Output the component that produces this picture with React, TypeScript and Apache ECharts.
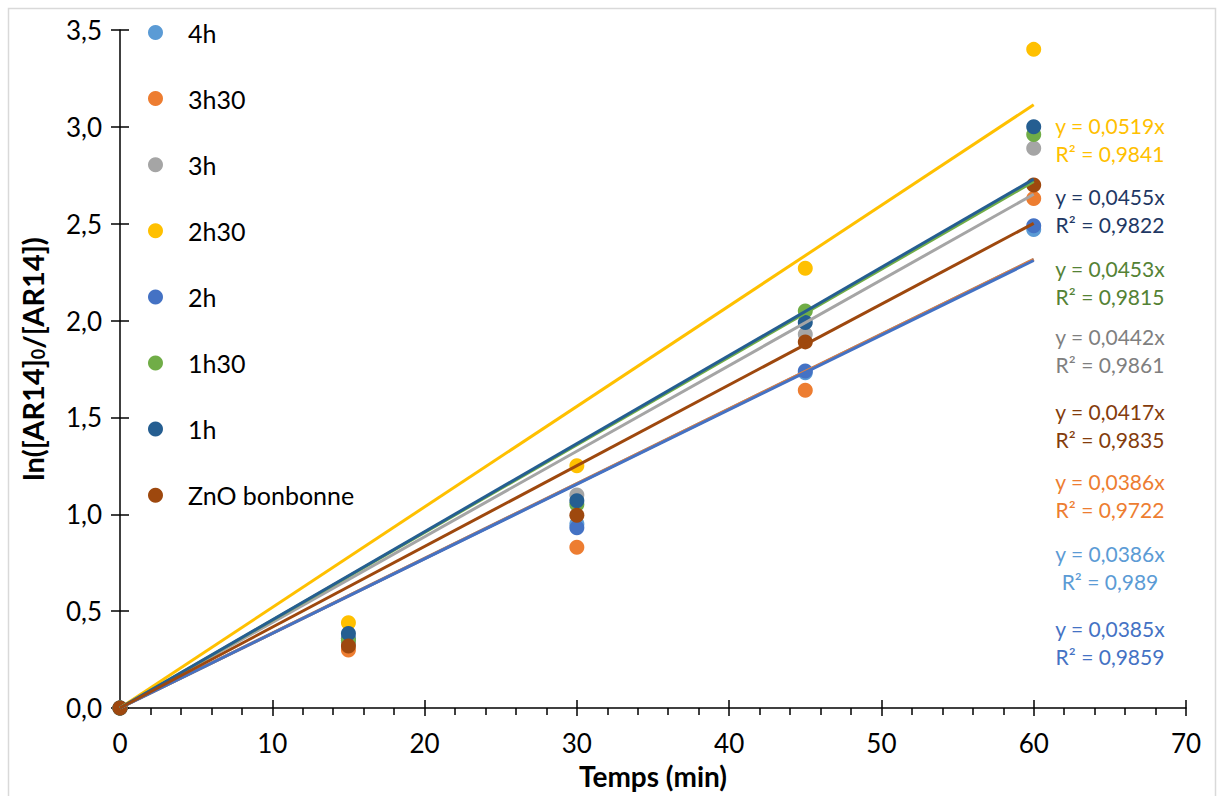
import React, { useEffect, useRef } from "react";
import * as echarts from "echarts";

const xTimes = [0, 15, 30, 45, 60];
const seriesNames = ["4h", "3h30", "3h", "2h30", "2h", "1h30", "1h", "ZnO bonbonne"];
const colors = ["#5B9BD5", "#ED7D31", "#A5A5A5", "#FFC000", "#4472C4", "#70AD47", "#255E91", "#9E480E"];
const labelColors = ["#5B9BD5", "#ED7D31", "#7F7F7F", "#FFC000", "#4472C4", "#548235", "#1F3864", "#843C0C"];
const yValues = [
  [0, 0.34, 0.95, 1.73, 2.47],
  [0, 0.30, 0.83, 1.64, 2.63],
  [0, 0.33, 1.10, 1.93, 2.89],
  [0, 0.44, 1.25, 2.27, 3.40],
  [0, 0.36, 0.93, 1.74, 2.49],
  [0, 0.35, 1.05, 2.05, 2.96],
  [0, 0.385, 1.07, 1.99, 3.00],
  [0, 0.32, 0.995, 1.89, 2.70],
];
const slopes = [0.0386, 0.0386, 0.0442, 0.0519, 0.0385, 0.0453, 0.0455, 0.0417];
const r2 = ["0,989", "0,9722", "0,9861", "0,9841", "0,9859", "0,9815", "0,9822", "0,9835"];
const yTicks = [0, 0.5, 1, 1.5, 2, 2.5, 3, 3.5];
// order of equation labels from top to bottom (series indices) with their y pixel centers
const labelOrder = [3, 6, 5, 2, 7, 1, 0, 4];
const labelY = [125, 196, 268, 336, 411, 481, 553, 628];

const FONT = "Lato, 'Open Sans', sans-serif";

export default function App() {
  const ref = useRef<HTMLDivElement>(null);
  useEffect(() => {
    if (!ref.current) return;
    const chart = echarts.init(ref.current, null, { renderer: "svg" });
    const scatterSeries = seriesNames.map((name, i) => ({
      name,
      type: "scatter",
      data: xTimes.map((x, j) => [x, yValues[i][j]]),
      symbol: "circle",
      symbolSize: 15,
      itemStyle: { color: colors[i], opacity: 1 },
      z: 3,
    }));
    const trendSeries = seriesNames.map((name, i) => ({
      name: name + " trend",
      type: "line",
      data: [[0, 0], [60, slopes[i] * 60]],
      showSymbol: false,
      symbol: "none",
      lineStyle: { color: colors[i], width: 3 },
      z: 4,
      silent: true,
    }));
    const graphics: any[] = [
      {
        type: "rect",
        shape: { x: 8.5, y: 8.5, width: 1207, height: 800 },
        style: { fill: "none", stroke: "#D9D9D9", lineWidth: 1.5 },
        silent: true,
      },
    ];
    labelOrder.forEach((si, k) => {
      graphics.push({
        type: "text",
        x: 1110,
        y: labelY[k],
        style: {
          text: "y = " + slopes[si].toFixed(4).replace(".", ",") + "x",
          fill: labelColors[si],
          font: `21px ${FONT}`,
          textAlign: "center",
          textVerticalAlign: "middle",
        },
      });
      graphics.push({
        type: "text",
        x: 1110,
        y: labelY[k] + 28.5,
        style: {
          text: "R² = " + r2[si],
          fill: labelColors[si],
          font: `21px ${FONT}`,
          textAlign: "center",
          textVerticalAlign: "middle",
        },
      });
    });
    chart.setOption({
      animation: false,
      backgroundColor: "#fff",
      grid: { left: 120, right: 32, top: 30, bottom: 88 },
      legend: {
        data: seriesNames,
        orient: "vertical",
        left: 143,
        top: 15,
        itemWidth: 15,
        itemHeight: 15,
        itemGap: 41.1,
        icon: "circle",
        textStyle: { fontFamily: FONT, fontSize: 25, lineHeight: 20, color: "#000", padding: [0, 0, 0, 20] },
      },
      xAxis: [
        {
          type: "value",
          min: 0,
          max: 70,
          interval: 10,
          name: "Temps (min)",
          nameLocation: "middle",
          nameGap: 54,
          nameTextStyle: { fontFamily: FONT, fontSize: 28, fontWeight: "bold", color: "#000" },
          axisLine: { show: true, onZero: false, lineStyle: { color: "#000", width: 1.5 } },
          axisTick: { show: true, length: 8, lineStyle: { color: "#000", width: 1.5 } },
          minorTick: { show: true, splitNumber: 5, length: 7, lineStyle: { color: "#000", width: 1.5 } },
          axisLabel: { fontFamily: FONT, fontSize: 26, color: "#000", margin: 22 },
          splitLine: { show: false },
          minorSplitLine: { show: false },
        },
        {
          type: "value",
          min: 0,
          max: 70,
          interval: 10,
          position: "bottom",
          axisLine: { show: false },
          axisTick: { show: true, inside: true, length: 8, lineStyle: { color: "#000", width: 1.5 } },
          axisLabel: { show: false },
          splitLine: { show: false },
        },
      ],
      yAxis: [
        {
          type: "value",
          min: 0,
          max: 3.5,
          interval: 0.5,
          name: "{a|ln([AR14]}{s|0}{a|/[AR14])}",
          nameLocation: "middle",
          nameGap: 73,
          nameRotate: 90,
          nameTextStyle: {
            padding: [0, 0, 0, 20],
            rich: {
              a: { fontFamily: FONT, fontSize: 29, fontWeight: "bold", color: "#000" },
              s: { fontFamily: FONT, fontSize: 18, fontWeight: "bold", color: "#000", padding: [12, 0, 0, 0] },
            },
          },
          axisLine: { show: true, onZero: false, lineStyle: { color: "#000", width: 1.5 } },
          axisTick: { show: true, length: 9, lineStyle: { color: "#000", width: 1.5 } },
          axisLabel: {
            fontFamily: FONT,
            fontSize: 26,
            color: "#000",
            margin: 18,
            formatter: (v: number) => (yTicks.includes(v) ? v.toFixed(1).replace(".", ",") : ""),
          },
          splitLine: { show: false },
        },
        {
          type: "value",
          min: 0,
          max: 3.5,
          interval: 0.5,
          position: "left",
          axisLine: { show: false },
          axisTick: { show: true, inside: true, length: 9, lineStyle: { color: "#000", width: 1.5 } },
          axisLabel: { show: false },
          splitLine: { show: false },
        },
      ],
      series: [...scatterSeries, ...trendSeries],
      graphic: graphics,
    });
    return () => chart.dispose();
  }, []);
  return <div ref={ref} style={{ position: "absolute", left: 0, top: 0, width: 1218, height: 796 }} />;
}
